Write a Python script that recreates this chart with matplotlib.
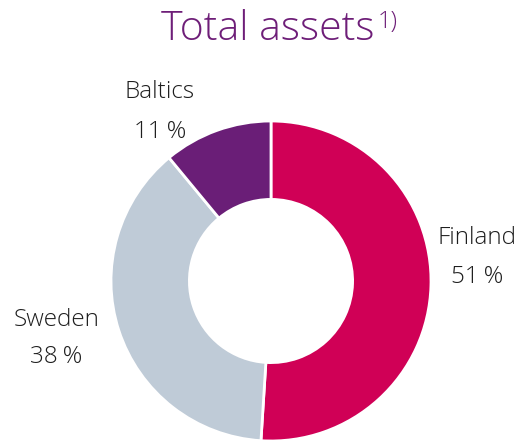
import matplotlib
matplotlib.use("Agg")
import matplotlib.pyplot as plt
from matplotlib import font_manager

regions = ["Finland", "Sweden", "Baltics"]
shares = [51, 38, 11]
colors = ["#D00056", "#BFCBD7", "#6A1E77"]
title = "Total assets"
footnote = "1)"

fams = {f.name for f in font_manager.fontManager.ttflist}
fam = "Open Sans" if "Open Sans" in fams else "DejaVu Sans"

fig = plt.figure(figsize=(5.2, 4.41), dpi=100)
ax = fig.add_axes([111/520, 0, 320/520, 320/441])
ax.pie(shares, colors=colors, startangle=90, counterclock=False,
       radius=1, wedgeprops=dict(width=0.49, edgecolor="white", linewidth=2))
ax.set_xlim(-1, 1)
ax.set_ylim(-1, 1)
ax.set_aspect("equal")
ax.axis("off")

label_pos = {"Finland": (1.29, 0.27, 0.025),
             "Sweden": (-1.34, -0.244, -0.475),
             "Baltics": (-0.694, 1.18, 0.93)}
for name, val in zip(regions, shares):
    x, y1, y2 = label_pos[name]
    ax.text(x, y1, name, ha="center", va="center", fontsize=17.5,
            color="#1e1e1e", family=fam, fontweight="light", clip_on=False)
    ax.text(x, y2, f"{val}\u2009%", ha="center", va="center", fontsize=17.5,
            color="#1e1e1e", family=fam, fontweight="light", clip_on=False)

t = fig.text(267.5/520, 1 - 30/441, title, ha="center", va="center",
             fontsize=29.5, color="#6E1E78", family=fam, fontweight="light")
fig.canvas.draw()
bb = t.get_window_extent()
fig.text(bb.x1 / 520 + 0.006, 1 - 22/441, footnote, ha="left", va="center",
         fontsize=17, color="#6E1E78", family=fam, fontweight="light")

fig.savefig("out.png", dpi=100, facecolor="white")
